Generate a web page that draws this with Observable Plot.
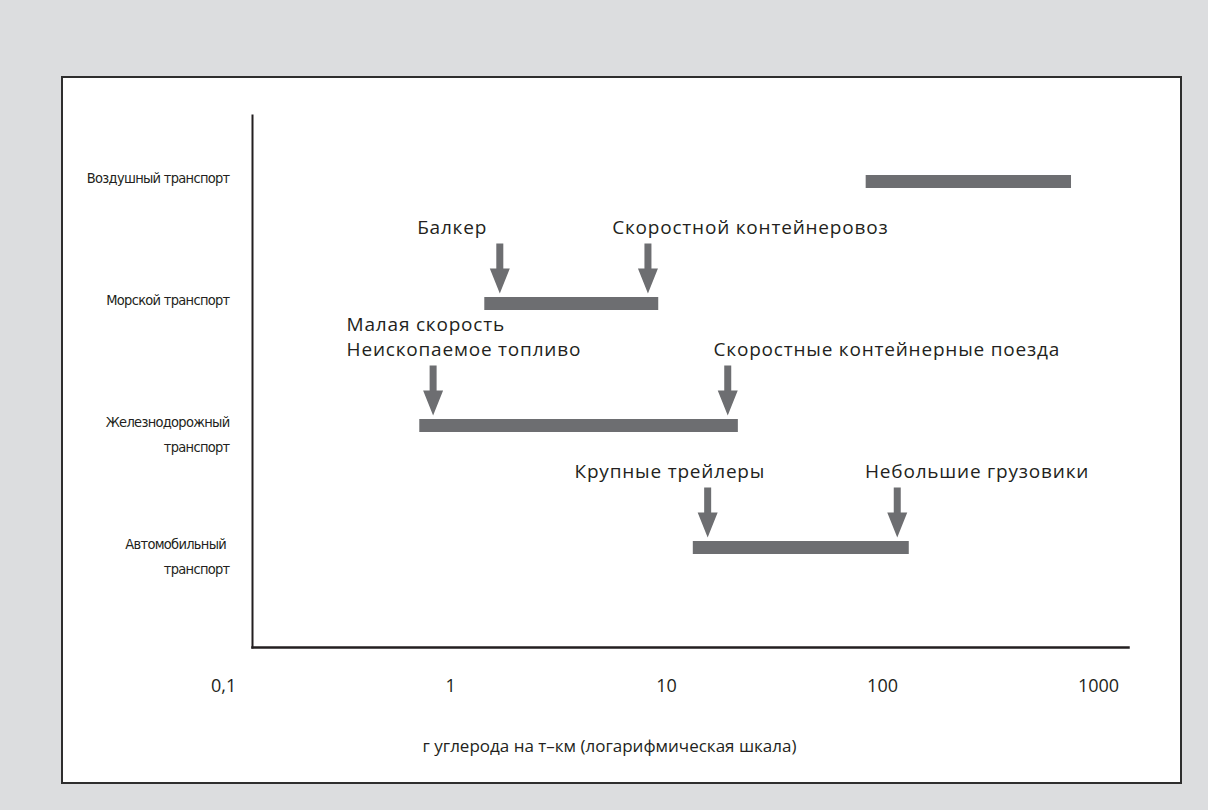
<!DOCTYPE html>
<html><head><meta charset="utf-8">
<script src="https://cdn.jsdelivr.net/npm/d3@7"></script>
<script src="https://cdn.jsdelivr.net/npm/@observablehq/plot@0.6"></script>
<style>
html,body{margin:0;padding:0;background:#dcdddf;width:1208px;height:810px;overflow:hidden;}
#panel{position:absolute;left:61px;top:76px;width:1117px;height:704px;background:#fff;border:2px solid #2e2e2e;}
#chart{position:absolute;left:0;top:0;}
[aria-description="ylabels"], [aria-description="ylabels"] text{letter-spacing:-0.7px;}
[aria-description="notes"], [aria-description="notes"] text{letter-spacing:0.8px;}
</style></head><body>
<div id="panel"></div><div id="chart"></div>
<script>
// Categories (y) and their display labels
const categories = ["Воздушный транспорт", "Морской транспорт", "Железнодорожный транспорт", "Автомобильный транспорт"];
const categoryLabels = ["Воздушный транспорт", "Морской транспорт", "Железнодорожный\nтранспорт", "Автомобильный\u00a0\nтранспорт"];
// Emission ranges, g carbon per t-km
const rangeLow = [84, 1.44, 0.72, 13.3];
const rangeHigh = [750, 9.2, 21.5, 133];
// Arrow markers
const arrowCategory = ["Морской транспорт", "Морской транспорт", "Железнодорожный транспорт", "Железнодорожный транспорт", "Автомобильный транспорт", "Автомобильный транспорт"];
const arrowValue = [1.69, 8.2, 0.83, 19.2, 15.5, 117];
// Annotation texts and where they start (x, data units)
const noteCategory = arrowCategory;
const noteText = ["Балкер", "Скоростной контейнеровоз", "Малая скорость\nНеископаемое топливо", "Скоростные контейнерные поезда", "Крупные трейлеры", "Небольшие грузовики"];
const noteStart = [0.70, 5.6, 0.33, 16.5, 3.75, 83];
// Axis
const xTicks = [0.1, 1, 10, 100, 1000];
const xTickLabels = ["0,1", "1", "10", "100", "1000"];
const xDomain = [0.121, 1377];
const xTitle = "г углерода на т–км (логарифмическая шкала)";

const bars = categories.map((c, i) => ({cat: c, lo: rangeLow[i], hi: rangeHigh[i]}));
const arrows = arrowValue.map((v, i) => ({cat: arrowCategory[i], v}));
const notes = noteText.map((t, i) => ({cat: noteCategory[i], t, x: noteStart[i]}));
const ylabels = categories.map((c, i) => ({cat: c, t: categoryLabels[i]}));
const tickFmt = d => xTickLabels[xTicks.indexOf(d)];

const arrowSymbol = {
  draw(ctx) {
    ctx.moveTo(-3.5, -50);
    ctx.lineTo(3.5, -50);
    ctx.lineTo(3.5, -25);
    ctx.lineTo(10, -25);
    ctx.lineTo(0, 0);
    ctx.lineTo(-10, -25);
    ctx.lineTo(-3.5, -25);
    ctx.closePath();
  }
};

const sansFont = "'Open Sans', 'Noto Sans', sans-serif";
const narrowFont = "'Liberation Sans Narrow', 'DejaVu Sans Condensed', 'Roboto Condensed', sans-serif";
const ink = "#231f20";
const barColor = "#6d6e71";

const chart = Plot.plot({
  width: 1208, height: 810,
  marginLeft: 252, marginRight: 80, marginTop: 115, marginBottom: 163,
  style: {background: "transparent", fontFamily: sansFont, color: ink, overflow: "visible"},
  x: {type: "log", domain: xDomain},
  y: {type: "point", domain: categories, padding: 0, insetTop: 65, insetBottom: 100, axis: null},
  marks: [
    Plot.frame({anchor: "left", stroke: ink, strokeWidth: 2}),
    Plot.frame({anchor: "bottom", stroke: ink, strokeWidth: 2.5}),
    Plot.ruleY(bars, {y: "cat", x1: "lo", x2: "hi", stroke: barColor, strokeWidth: 13}),
    Plot.dot(arrows, {x: "v", y: "cat", symbol: arrowSymbol, r: 1, fill: barColor, stroke: "none", dy: -10}),
    Plot.text(notes, {x: "x", y: "cat", text: "t", textAnchor: "start", lineAnchor: "bottom", dy: -70, fontSize: 19, lineHeight: 1.28, fill: ink, ariaDescription: "notes"}),
    Plot.text(ylabels, {y: "cat", text: "t", frameAnchor: "left", textAnchor: "end", dx: -23, lineAnchor: "top", dy: -16, lineHeight: 1.72, fontSize: 14.5, fontFamily: narrowFont, fill: ink, ariaDescription: "ylabels"}),
    Plot.axisX(xTicks.slice(1), {tickSize: 0, tickPadding: 32, tickFormat: tickFmt, fontSize: 18, fill: ink, label: null}),
    Plot.axisX(xTicks.slice(0, 1), {tickSize: 0, tickPadding: 32, tickFormat: tickFmt, fontSize: 18, fill: ink, label: null, dx: -11}),
    Plot.text([xTitle], {frameAnchor: "bottom", dx: -81, dy: 104, fontSize: 17, fill: ink})
  ]
});
document.getElementById("chart").appendChild(chart);
</script>
</body></html>
